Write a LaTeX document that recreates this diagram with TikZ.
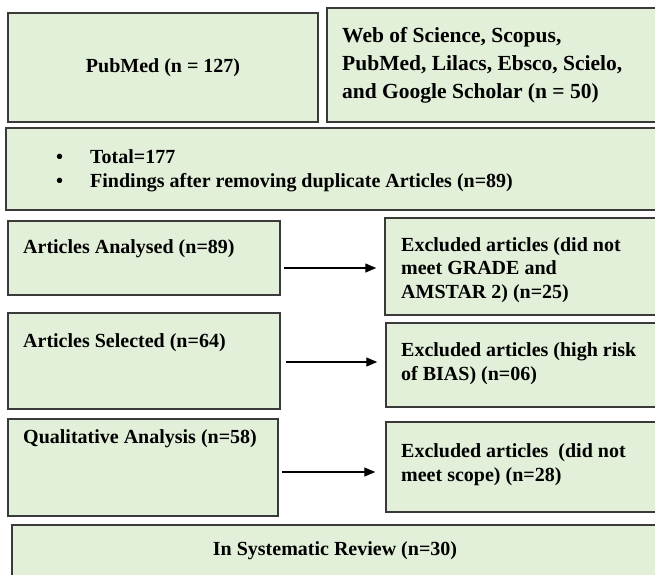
\documentclass[tikz,border=0pt]{standalone}
\usepackage{fontspec}
\setmainfont{Liberation Serif}
\usetikzlibrary{arrows.meta,fit}
\definecolor{boxfill}{HTML}{E2EFD9}
\definecolor{boxline}{HTML}{3A3A3A}
\begin{document}
\begin{tikzpicture}[x=1pt,y=-1pt,
  box/.style={draw=boxline, fill=boxfill, line width=1.5pt, rectangle, inner sep=0pt},
  txt/.style={font=\fontsize{20}{23.5}\selectfont\bfseries, inner sep=0pt, align=left, text=black},
  bigtxt/.style={font=\fontsize{21.5}{28}\selectfont\bfseries, inner sep=0pt, align=left, text=black},
  arr/.style={-{Triangle[length=11pt,width=9pt]}, line width=1.3pt, draw=black}]
\useasboundingbox (0,0) rectangle (655,574);
\clip (0,0) rectangle (655,574);
% boxes
\node[box, fit={(8,13) (318,122)}] (pub) {};
\node[box, fit={(327,8) (662,122)}] (web) {};
\node[box, fit={(6,128) (662,210)}] (tot) {};
\node[box, fit={(8,221) (280,295)}] (ana) {};
\node[box, fit={(385,218) (662,315)}] (ex1) {};
\node[box, fit={(8,313) (280,409)}] (sel) {};
\node[box, fit={(386,323) (662,407)}] (ex2) {};
\node[box, fit={(8,419) (278,516)}] (qual) {};
\node[box, fit={(386,422) (662,512)}] (ex3) {};
\node[box, fit={(12,525) (662,590)}] (sys) {};
% texts (base anchor = baseline of the last line)
\node[txt, font=\fontsize{20}{24}\selectfont\bfseries] (pubt) at (pub.center) {PubMed (n = 127)};
\node[bigtxt, anchor=base west] (webt) at (342,98) {Web of Science, Scopus,\\PubMed, Lilacs, Ebsco, Scielo,\\and Google Scholar (n = 50)};
\node[txt, anchor=base west, font=\fontsize{20}{24}\selectfont\bfseries] (tott) at (56,187) {\makebox[34pt][l]{•}Total=177\\\makebox[34pt][l]{•}Findings after removing duplicate Articles (n=89)};
\node[txt, anchor=base west] (anat) at (23,253) {Articles Analysed (n=89)};
\node[txt, anchor=base west] (ex1t) at (401,298) {Excluded articles (did not\\meet GRADE and\\AMSTAR 2) (n=25)};
\node[txt, anchor=base west] (selt) at (23,347) {Articles Selected (n=64)};
\node[txt, anchor=base west, font=\fontsize{20}{24}\selectfont\bfseries] (ex2t) at (401,380) {Excluded articles (high risk\\of BIAS) (n=06)};
\node[txt, anchor=base west] (qualt) at (23,443) {Qualitative Analysis (n=58)};
\node[txt, anchor=base west, font=\fontsize{20}{24}\selectfont\bfseries] (ex3t) at (401,481) {Excluded articles~ (did not\\meet scope) (n=28)};
\node[txt] (syst) at (335,551) {In Systematic Review (n=30)};
% arrows
\draw[arr] ([xshift=3pt,yshift=-1.5pt]ana.east |- ex1.west) -- ([xshift=-8pt,yshift=-1.5pt]ex1.west);
\draw[arr] ([xshift=5pt,yshift=3pt]sel.east |- ex2.west) -- ([xshift=-8pt,yshift=3pt]ex2.west);
\draw[arr] ([xshift=3pt,yshift=-5pt]qual.east |- ex3.west) -- ([xshift=-10pt,yshift=-5pt]ex3.west);
\end{tikzpicture}
\end{document}
